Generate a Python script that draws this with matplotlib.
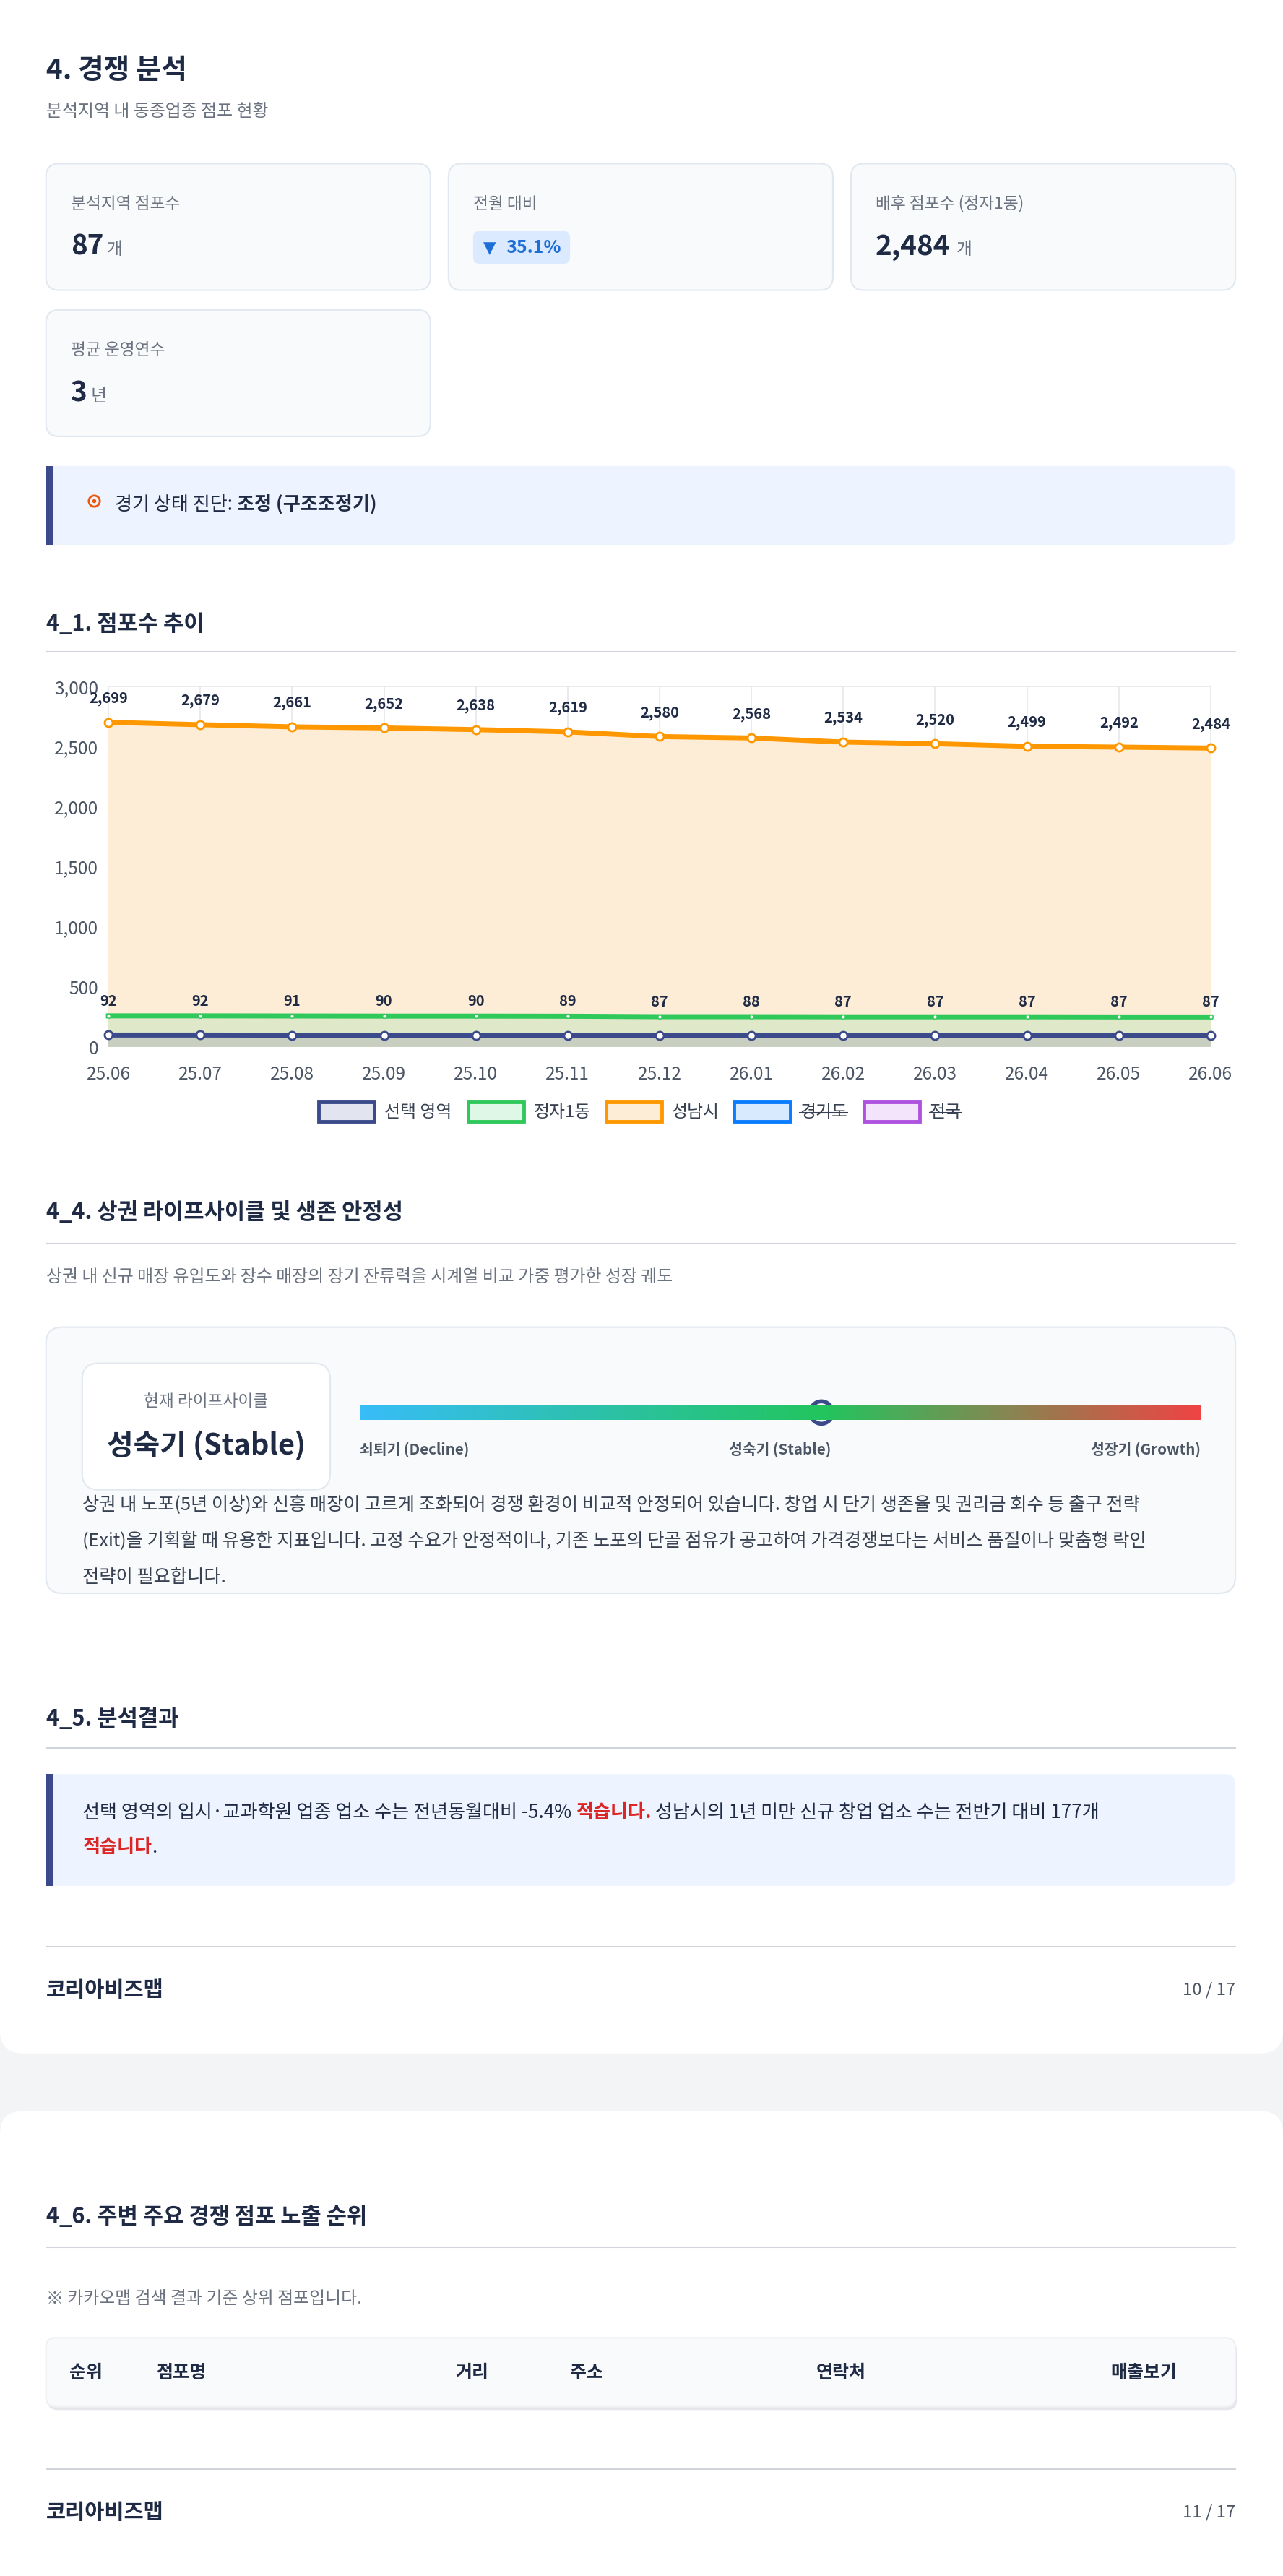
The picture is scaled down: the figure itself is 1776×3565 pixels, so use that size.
import matplotlib
matplotlib.use("Agg")
import matplotlib.pyplot as plt
import numpy as np
from matplotlib.patches import FancyBboxPatch, Rectangle, Circle
from matplotlib.colors import LinearSegmentedColormap
from matplotlib.ticker import FuncFormatter

plt.rcParams['font.family'] = ['Noto Sans CJK KR', 'DejaVu Sans']

months = ["25.06","25.07","25.08","25.09","25.10","25.11","25.12","26.01","26.02","26.03","26.04","26.05","26.06"]
sel_area = [92,92,91,90,90,89,87,88,87,87,87,87,87]
jeongja = [252,252,251,250,250,249,245,245,244,244,244,243,243]
seongnam = [2699,2679,2661,2652,2638,2619,2580,2568,2534,2520,2499,2492,2484]
legend_names = ["선택 영역","정자1동","성남시","경기도","전국"]
legend_colors = ["#3b4a8a","#2fc85a","#ff9800","#0a7cff","#b052e0"]
legend_fills = ["#e2e5ef","#dff7e6","#fdecd6","#d8eafe","#f3e3fb"]

W, H = 781, 1568
fig = plt.figure(figsize=(17.76, 35.66), dpi=100)
bg = fig.add_axes([0, 0, 1, 1])
bg.set_xlim(0, W); bg.set_ylim(H, 0); bg.axis('off')
fig.patch.set_facecolor("#f3f4f6")

K = 1.637
DARK = "#1f2a44"; GRAY = "#6b7280"; LINE = "#e5e7eb"

def T(x, y, s, size, color=DARK, weight='normal', ha='left', **kw):
    return bg.text(x, y, s, fontsize=size*K, color=color, fontweight=weight, ha=ha, va='center', **kw)

def box(x0, y0, x1, y1, fc, ec='none', r=8, lw=1.5, z=1):
    bg.add_patch(FancyBboxPatch((x0, y0), x1-x0, y1-y0, boxstyle=f"round,pad=0,rounding_size={r}",
                                fc=fc, ec=ec, lw=lw, zorder=z))

def hline(y, x0=28, x1=752):
    bg.plot([x0, x1], [y, y], color="#d1d5db", lw=1.5, zorder=2)

fig.canvas.draw()
R = fig.canvas.get_renderer()
def right(t):
    return t.get_window_extent(R).transformed(bg.transData.inverted()).x1

# cards
box(0, -20, W, 1250, "white", r=14)
box(0, 1285, W, 1600, "white", r=14)

T(28, 43, "4. 경쟁 분석", 17, weight='bold')
T(28, 68, "분석지역 내 동종업종 점포 현황", 10.5, color=GRAY)

cards = [(28,100,262,177,"분석지역 점포수"),(273,100,507,177,"전월 대비"),
         (518,100,752,177,"배후 점포수 (정자1동)"),(28,189,262,266,"평균 운영연수")]
for x0,y0,x1,y1,lab in cards:
    box(x0,y0,x1,y1,"#f8fafc",ec="#e2e8f0",r=8,z=2)
    T(x0+15, y0+24, lab, 10, color=GRAY, zorder=3)
T(43, 150, "87", 17, weight='bold', zorder=3); T(65, 152, "개", 10.5, color=GRAY, zorder=3)
box(288, 141, 347, 161, "#dbeafe", r=4, z=3)
T(294, 151, "▼", 10, color="#1d6fd8", zorder=4, family=['DejaVu Sans'])
T(308, 151, "35.1%", 11, color="#1d6fd8", weight='bold', zorder=4)
T(533, 150, "2,484", 17, weight='bold', zorder=3); T(582, 152, "개", 10.5, color=GRAY, zorder=3)
T(43, 239, "3", 17, weight='bold', zorder=3); T(55, 241, "년", 10.5, color=GRAY, zorder=3)

# alert
box(28, 284, 752, 332, "#eef4ff", r=6, z=2)
bg.add_patch(Rectangle((28, 284), 4, 48, fc="#3b4a8a", zorder=3))
bg.plot([57], [305], marker='o', ms=11, mfc='none', mec="#ea580c", mew=2, zorder=4)
bg.plot([57], [305], marker='o', ms=3, mfc="#ea580c", mec="#ea580c", zorder=4)
ta = T(70, 307, "경기 상태 진단: ", 11.5, zorder=4)
T(right(ta), 307, "조정 (구조조정기)", 11.5, weight='bold', zorder=4)

T(28, 380, "4_1. 점포수 추이", 13.5, weight='bold'); hline(397)

# chart
ax = fig.add_axes([66/W, 1-637/H, (737-66)/W, (637-418)/H])
x = np.arange(len(months))
ax.fill_between(x, seongnam, 0, color="#fdecd6", zorder=1)
ax.fill_between(x, jeongja, 0, color="#dfe8c8", zorder=2)
ax.fill_between(x, sel_area, 0, color="#c8cfc0", zorder=3)
ax.plot(x, seongnam, color="#ff9800", lw=5, marker='o', ms=8, mfc='white', mec="#ff9800", mew=2, zorder=5, clip_on=False)
ax.plot(x, jeongja, color="#2fc85a", lw=5, marker='o', ms=4, mfc='white', mec="#2fc85a", zorder=5, clip_on=False)
ax.plot(x, sel_area, color="#3b4a8a", lw=5, marker='o', ms=8, mfc='white', mec="#3b4a8a", mew=2, zorder=6, clip_on=False)
for i in range(len(x)):
    ax.annotate(f"{seongnam[i]:,}", (x[i], seongnam[i]), xytext=(0, 17), textcoords='offset points',
                ha='center', va='bottom', fontsize=14.5, fontweight='bold', color="#1f2a44", zorder=7, annotation_clip=False)
    ax.annotate(f"{sel_area[i]}", (x[i], sel_area[i]), xytext=(0, 27), textcoords='offset points',
                ha='center', va='bottom', fontsize=14.5, fontweight='bold', color="#1f2a44", zorder=7, annotation_clip=False)
ax.set_xlim(0, 12); ax.set_ylim(0, 3000)
ax.set_xticks(x); ax.set_xticklabels(months)
ax.set_yticks([0,500,1000,1500,2000,2500,3000])
ax.yaxis.set_major_formatter(FuncFormatter(lambda v, p: f"{int(v):,}"))
ax.tick_params(labelsize=17.5, colors="#4b5563", length=0)
ax.tick_params(axis='x', pad=18)
ax.tick_params(axis='y', pad=10)
ax.grid(True, color=LINE, lw=1.2); ax.set_axisbelow(True)
for s in ax.spines.values(): s.set_visible(False)
ax.set_facecolor("white")

# legend
lx = [194, 285, 369, 447, 526]
for i, nm in enumerate(legend_names):
    bg.add_patch(Rectangle((lx[i], 671), 34, 12, fc=legend_fills[i], ec=legend_colors[i], lw=3.5, zorder=3))
    tl = T(lx[i]+40, 677, nm, 10.5, color="#374151", zorder=3)
    if i >= 3:
        bg.plot([lx[i]+40, right(tl)], [677.5, 677.5], color="#374151", lw=1.5, zorder=4)

T(28, 738, "4_4. 상권 라이프사이클 및 생존 안정성", 13.5, weight='bold'); hline(757)
T(28, 777, "상권 내 신규 매장 유입도와 장수 매장의 장기 잔류력을 시계열 비교 가중 평가한 성장 궤도", 10.5, color=GRAY)

box(28, 808, 752, 970, "#f8fafc", ec="#e2e8f0", r=10, z=2)
box(50, 830, 201, 907, "white", ec="#e2e8f0", r=10, z=3)
T(125.5, 853, "현재 라이프사이클", 10, color=GRAY, ha='center', zorder=4)
T(125.5, 880, "성숙기 (Stable)", 17.5, weight='bold', ha='center', zorder=4)
cmap = LinearSegmentedColormap.from_list("lc", [(0, "#38bdf8"), (0.55, "#22c55e"), (1, "#ef4444")])
gax = fig.add_axes([219/W, 1-864.5/H, (731-219)/W, 9/H])
gax.imshow(np.linspace(0, 1, 256)[None, :], aspect='auto', cmap=cmap)
gax.axis('off')
bg.add_patch(Circle((500, 860), 6.8, fc='white', ec="#3b4a8a", lw=4, zorder=10))
T(219, 882, "쇠퇴기 (Decline)", 9, color="#4b5563", weight='bold', zorder=4)
T(475, 882, "성숙기 (Stable)", 9, color="#4b5563", weight='bold', ha='center', zorder=4)
T(731, 882, "성장기 (Growth)", 9, color="#4b5563", weight='bold', ha='right', zorder=4)
para = ["상권 내 노포(5년 이상)와 신흥 매장이 고르게 조화되어 경쟁 환경이 비교적 안정되어 있습니다. 창업 시 단기 생존율 및 권리금 회수 등 출구 전략",
        "(Exit)을 기획할 때 유용한 지표입니다. 고정 수요가 안정적이나, 기존 노포의 단골 점유가 공고하여 가격경쟁보다는 서비스 품질이나 맞춤형 락인",
        "전략이 필요합니다."]
for i, ln in enumerate(para):
    T(50, 916+22*i, ln, 11.1, color="#374151", zorder=4)

T(28, 1046, "4_5. 분석결과", 13.5, weight='bold'); hline(1064)
box(28, 1080, 752, 1148, "#eef4ff", r=6, z=2)
bg.add_patch(Rectangle((28, 1080), 4, 68, fc="#3b4a8a", zorder=3))
t1 = T(50, 1103, "선택 영역의 입시·교과학원 업종 업소 수는 전년동월대비 -5.4% ", 11.5, zorder=4)
t2 = T(right(t1), 1103, "적습니다.", 11.5, color="#dc2626", weight='bold', zorder=4)
T(right(t2), 1103, " 성남시의 1년 미만 신규 창업 업소 수는 전반기 대비 177개", 11.5, zorder=4)
t4 = T(50, 1124, "적습니다", 11.5, color="#dc2626", weight='bold', zorder=4)
T(right(t4), 1124, ".", 11.5, zorder=4)

hline(1185)
T(28, 1211, "코리아비즈맵", 13, weight='bold')
T(752, 1211, "10 / 17", 10.5, color="#4b5563", ha='right')

T(28, 1349, "4_6. 주변 주요 경쟁 점포 노출 순위", 13.5, weight='bold'); hline(1368)
T(28, 1399, "※ 카카오맵 검색 결과 기준 상위 점포입니다.", 10.5, color=GRAY)
box(29, 1425, 753, 1467, "#e5e7eb", r=6, z=2)
box(28, 1423, 752, 1465, "#f8fafc", ec="#eef0f3", r=6, z=3)
for hx, hs in [(42,"순위"),(95,"점포명"),(277,"거리"),(347,"주소"),(497,"연락처"),(676,"매출보기")]:
    T(hx, 1444, hs, 11, weight='bold', zorder=4)
hline(1503)
T(28, 1529, "코리아비즈맵", 13, weight='bold')
T(752, 1529, "11 / 17", 10.5, color="#4b5563", ha='right')

fig.savefig("out.png", dpi=100)
